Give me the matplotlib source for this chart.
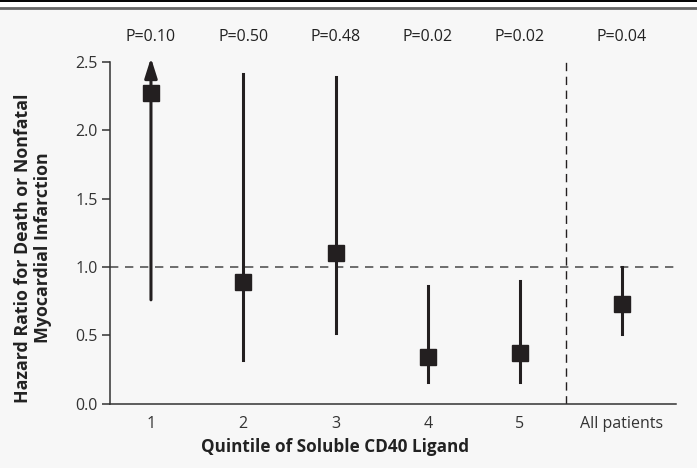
import matplotlib
matplotlib.use("Agg")
import matplotlib.pyplot as plt
from matplotlib.lines import Line2D

# data
groups = ["1", "2", "3", "4", "5", "All patients"]
xpos = [1, 2, 3, 4, 5, 6.1]
hr = [2.27, 0.89, 1.10, 0.34, 0.37, 0.73]
ci_low = [0.76, 0.32, 0.52, 0.16, 0.16, 0.51]
ci_high = [2.53, 2.41, 2.39, 0.86, 0.90, 1.00]
p_labels = ["P=0.10", "P=0.50", "P=0.48", "P=0.02", "P=0.02", "P=0.04"]
arrow_up = [True, False, False, False, False, False]

ink = "#231f20"
plt.rcParams["font.family"] = ["Open Sans", "DejaVu Sans"]

W, H = 697, 468
fig = plt.figure(figsize=(W / 100, H / 100), dpi=100)
fig.patch.set_facecolor("#f7f7f7")

# top rule (black line + gray band)
fig.patches.append(plt.Rectangle((0, 1 - 7 / H), 1, 7 / H, transform=fig.transFigure,
                                 facecolor="white", edgecolor="none", zorder=0))
fig.lines.append(Line2D([0, 1], [1 - 0.8 / H, 1 - 0.8 / H], transform=fig.transFigure,
                        color="black", lw=1.4))
fig.lines.append(Line2D([0, 1], [1 - 8 / H, 1 - 8 / H], transform=fig.transFigure,
                        color="#666666", lw=2.0))

ax = fig.add_axes([110 / W, (H - 403.7) / H, (676 - 110) / W, (403.7 - 62) / H])
ax.set_facecolor("#f7f7f7")

ax.set_xlim(0.556, 6.69)
ax.set_ylim(0, 2.5)

ax.axhline(1.0, color="#555555", lw=1.2, ls=(0, (5, 4)), zorder=1)
ax.axvline(5.5, color=ink, lw=1.0, ls=(0, (6, 4)), zorder=1)

for x, y, lo, hi, up in zip(xpos, hr, ci_low, ci_high, arrow_up):
    if up:
        ax.annotate("", xy=(x, hi), xytext=(x, lo), annotation_clip=False,
                    arrowprops=dict(arrowstyle="-|>,head_length=0.6,head_width=0.19",
                                    mutation_scale=20, lw=2.2, color=ink,
                                    shrinkA=0, shrinkB=0), zorder=2)
    else:
        ax.plot([x, x], [lo, hi], color=ink, lw=2.2, zorder=2)
    ax.plot(x, y, marker="s", ms=11.5, color=ink, zorder=3, clip_on=False)

for x, p in zip(xpos, p_labels):
    ax.text(x, 2.5 + 25 / 136.7, p, ha="center", va="center", fontsize=11.5, color="#222222")

for s in ["top", "right"]:
    ax.spines[s].set_visible(False)
for s in ["left", "bottom"]:
    ax.spines[s].set_color("#333333")
    ax.spines[s].set_linewidth(1.1)

ax.set_yticks([0, 0.5, 1.0, 1.5, 2.0, 2.5])
ax.set_yticklabels(["0.0", "0.5", "1.0", "1.5", "2.0", "2.5"])
ax.set_xticks(xpos)
ax.set_xticklabels(groups)
ax.tick_params(axis="y", length=6, width=1.1, color="#333333", labelsize=11.5,
               labelcolor="#333333", pad=3)
ax.tick_params(axis="x", length=0, labelsize=11.5, labelcolor="#333333", pad=9)

ax.set_ylabel("Hazard Ratio for Death or Nonfatal\nMyocardial Infarction",
              fontsize=12.8, fontweight="bold", color="#222222", linespacing=1.15)
ax.yaxis.set_label_coords(-0.102, 0.456)
ax.text(3, -0.32, "Quintile of Soluble CD40 Ligand", ha="center", va="center",
        fontsize=12.3, fontweight="bold", color="#222222")

fig.savefig("out.png", dpi=100, facecolor=fig.get_facecolor())
